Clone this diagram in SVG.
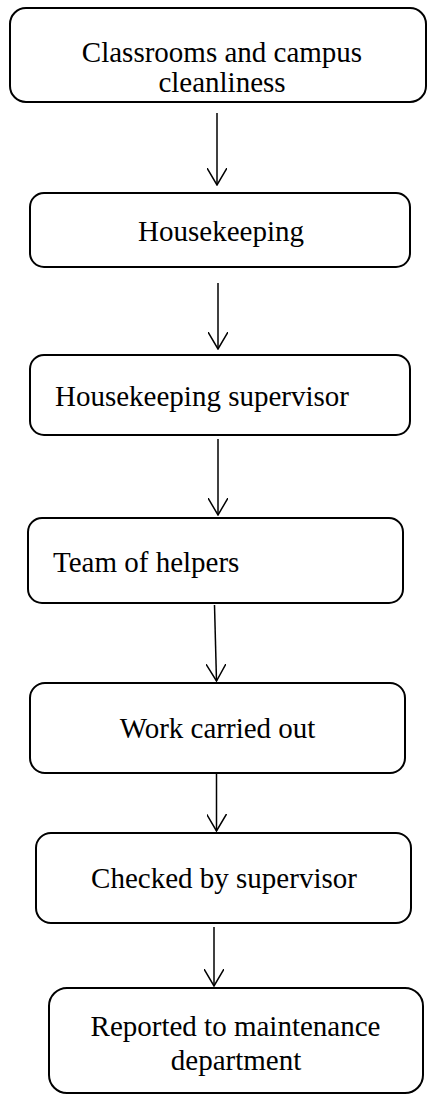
<svg xmlns="http://www.w3.org/2000/svg" width="427" height="1095" viewBox="0 0 427 1095">
  <style>
    .box { fill: #ffffff; stroke: #000000; stroke-width: 2; }
    .label { font-family: "Liberation Serif", "Times New Roman", serif; font-size: 29px; fill: #000000; }
    .mid { text-anchor: middle; }
    .edge { stroke: #000000; stroke-width: 1.5; fill: none; }
  </style>
  <defs>
    <!-- open chevron arrowhead, tip at the end of the line -->
    <marker id="chev" viewBox="0 0 18 20" refX="17" refY="10" markerWidth="18" markerHeight="20" markerUnits="userSpaceOnUse" orient="auto">
      <path d="M0,0 L17,10 L0,20" fill="none" stroke="#000" stroke-width="1.5"/>
    </marker>
  </defs>
  <rect width="427" height="1095" fill="#ffffff"/>

  <g id="n1">
    <rect class="box" x="10" y="8" width="416" height="94" rx="16"/>
    <text class="label mid" x="222" y="62">Classrooms and campus</text>
    <text class="label mid" x="222" y="92">cleanliness</text>
  </g>
  <g id="n2">
    <rect class="box" x="30" y="193" width="380" height="74" rx="14"/>
    <text class="label mid" x="221" y="241">Housekeeping</text>
  </g>
  <g id="n3">
    <rect class="box" x="30" y="355" width="380" height="80" rx="14"/>
    <text class="label" x="55" y="406">Housekeeping supervisor</text>
  </g>
  <g id="n4">
    <rect class="box" x="28" y="518" width="375" height="85" rx="14"/>
    <text class="label" x="53" y="572">Team of helpers</text>
  </g>
  <g id="n5">
    <rect class="box" x="30" y="683" width="375" height="90" rx="15"/>
    <text class="label mid" x="217.5" y="738">Work carried out</text>
  </g>
  <g id="n6">
    <rect class="box" x="36" y="833" width="375" height="90" rx="15"/>
    <text class="label mid" x="224" y="888">Checked by supervisor</text>
  </g>
  <g id="n7">
    <rect class="box" x="49" y="988" width="374" height="105" rx="18"/>
    <text class="label mid" x="235.5" y="1036">Reported to maintenance</text>
    <text class="label mid" x="236" y="1070">department</text>
  </g>

  <g id="connectors">
    <line class="edge" x1="217" y1="113" x2="217" y2="185" marker-end="url(#chev)"/>
    <line class="edge" x1="218" y1="283" x2="218" y2="349" marker-end="url(#chev)"/>
    <line class="edge" x1="218" y1="439" x2="218" y2="515" marker-end="url(#chev)"/>
    <line class="edge" x1="214.5" y1="605" x2="216.5" y2="681" marker-end="url(#chev)"/>
    <line class="edge" x1="216.5" y1="773" x2="216.5" y2="831" marker-end="url(#chev)"/>
    <line class="edge" x1="214" y1="927" x2="214" y2="986" marker-end="url(#chev)"/>
  </g>
</svg>
